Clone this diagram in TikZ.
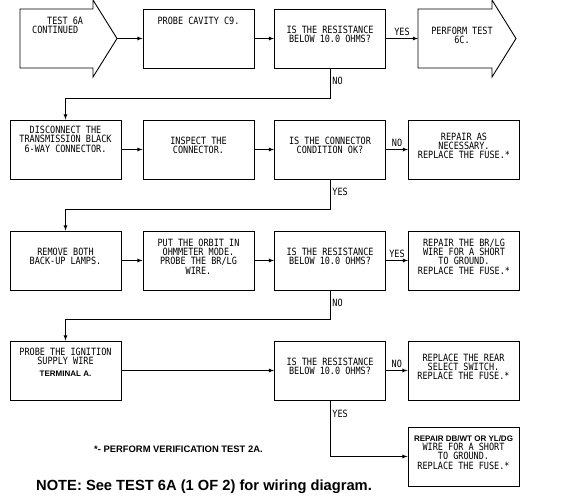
\documentclass[tikz,border=0pt]{standalone}
\usepackage{fontspec}
\setmainfont{Liberation Sans}
\setmonofont[FakeStretch=0.85]{DejaVu Sans Mono}
\usetikzlibrary{arrows}

\tikzset{
  box/.style={draw, line width=0.9pt, minimum width=111pt, minimum height=59pt,
    inner sep=1pt, align=center, text depth=8pt, font=\fontsize{10}{9.2}\ttfamily},
  txt/.style={align=center, inner sep=0pt, font=\fontsize{10}{9.2}\ttfamily},
  lbl/.style={inner sep=2pt, font=\fontsize{10}{9}\ttfamily},
  flow/.style={-latex, line width=0.8pt}
}

\begin{document}
\begin{tikzpicture}[x=1pt,y=-1pt]
    \useasboundingbox (0,0) rectangle (579,502);

    % row 1
    \draw[line width=0.9pt] (20,9) -- (93,9) -- (93,0) -- (117,38.5) -- (93,77) -- (93,68) -- (20,68) -- cycle;
    \coordinate (a1) at (117,38.5);
    \node[txt, align=left, anchor=north west] at (32,17) (a1t) {\hspace*{15pt}TEST 6A\\CONTINUED};
    \node[box] at (198.5,38.5) (p1) {};
    \node[txt, anchor=north] at (198.5,17) (p1t) {PROBE CAVITY C9.};
    \node[box] at (330,38.5) (d1) {IS THE RESISTANCE\\BELOW 10.0 OHMS?};
    \draw[line width=0.9pt] (418,9) -- (492,9) -- (492,0) -- (516,38.5) -- (492,77) -- (492,68) -- (418,68) -- cycle;
    \coordinate (a2) at (418,38.5);
    \node[txt] at (462,35.5) (a2t) {PERFORM TEST\\6C.};
    \draw[flow] (a1) -- (p1);
    \draw[flow] (p1) -- (d1);
    \draw[flow] (d1) -- node[lbl, above] {YES} (a2);

    % row 2
    \node[box] at (65.5,149.5) (b1) {};
    \node[txt, anchor=north] at (65.5,126) (b1t) {DISCONNECT THE\\TRANSMISSION BLACK\\6-WAY CONNECTOR.};
    \node[box] at (198.5,149.5) (b2) {INSPECT THE\\CONNECTOR.};
    \node[box] at (330,149.5) (b3) {IS THE CONNECTOR\\CONDITION OK?};
    \node[box] at (464,149.5) (b4) {REPAIR AS\\NECESSARY.\\REPLACE THE FUSE.*};
    \draw[flow] (d1.south) -- ++(0,30) node[lbl, pos=0.43, right] {NO} -| (b1.north);
    \draw[flow] (b1) -- (b2);
    \draw[flow] (b2) -- (b3);
    \draw[flow] (b3) -- node[lbl, above] {NO} (b4);

    % row 3
    \node[box] at (65.5,260.5) (c1) {REMOVE BOTH\\BACK-UP LAMPS.};
    \node[box] at (198.5,260.5) (c2) {PUT THE ORBIT IN\\OHMMETER MODE.\\PROBE THE BR/LG\\WIRE.};
    \node[box] at (330,260.5) (c3) {IS THE RESISTANCE\\BELOW 10.0 OHMS?};
    \node[box] at (464,260.5) (c4) {REPAIR THE BR/LG\\WIRE FOR A SHORT\\TO GROUND.\\REPLACE THE FUSE.*};
    \draw[flow] (b3.south) -- ++(0,30) node[lbl, pos=0.43, right] {YES} -| (c1.north);
    \draw[flow] (c1) -- (c2);
    \draw[flow] (c2) -- (c3);
    \draw[flow] (c3) -- node[lbl, above] {YES} (c4);

    % row 4
    \node[box] at (65.5,370.5) (e1) {};
    \node[txt, anchor=north] at (65.5,348) (e1t) {PROBE THE IGNITION\\SUPPLY WIRE\\[2pt]{\rmfamily\bfseries\fontsize{8}{9}\selectfont TERMINAL A.}};
    \node[box] at (330,370.5) (e3) {IS THE RESISTANCE\\BELOW 10.0 OHMS?};
    \node[box] at (463.5,370.5) (e4) {REPLACE THE REAR\\SELECT SWITCH.\\REPLACE THE FUSE.*};
    \node[box] at (463.5,456.5) (e5) {{\rmfamily\bfseries\fontsize{8}{9}\selectfont REPAIR DB/WT OR YL/DG}\\WIRE FOR A SHORT\\TO GROUND.\\REPLACE THE FUSE.*};
    \draw[flow] (c3.south) -- ++(0,29) node[lbl, pos=0.43, right] {NO} -| (e1.north);
    \draw[flow] (e1) -- (e3);
    \draw[flow] (e3) -- node[lbl, above] {NO} (e4);
    \draw[flow] (e3.south) |- node[lbl, pos=0.12, right] {YES} (e5.west);

    % notes
    \node[inner sep=0pt, anchor=west, font=\bfseries\fontsize{9.4}{10}\selectfont] at (94,449) (fn) {*- PERFORM VERIFICATION TEST 2A.};
    \node[inner sep=0pt, anchor=west, font=\bfseries\fontsize{14.7}{16}\selectfont] at (36,487) (nt) {NOTE: See TEST 6A (1 OF 2) for wiring diagram.};
\end{tikzpicture}
\end{document}
